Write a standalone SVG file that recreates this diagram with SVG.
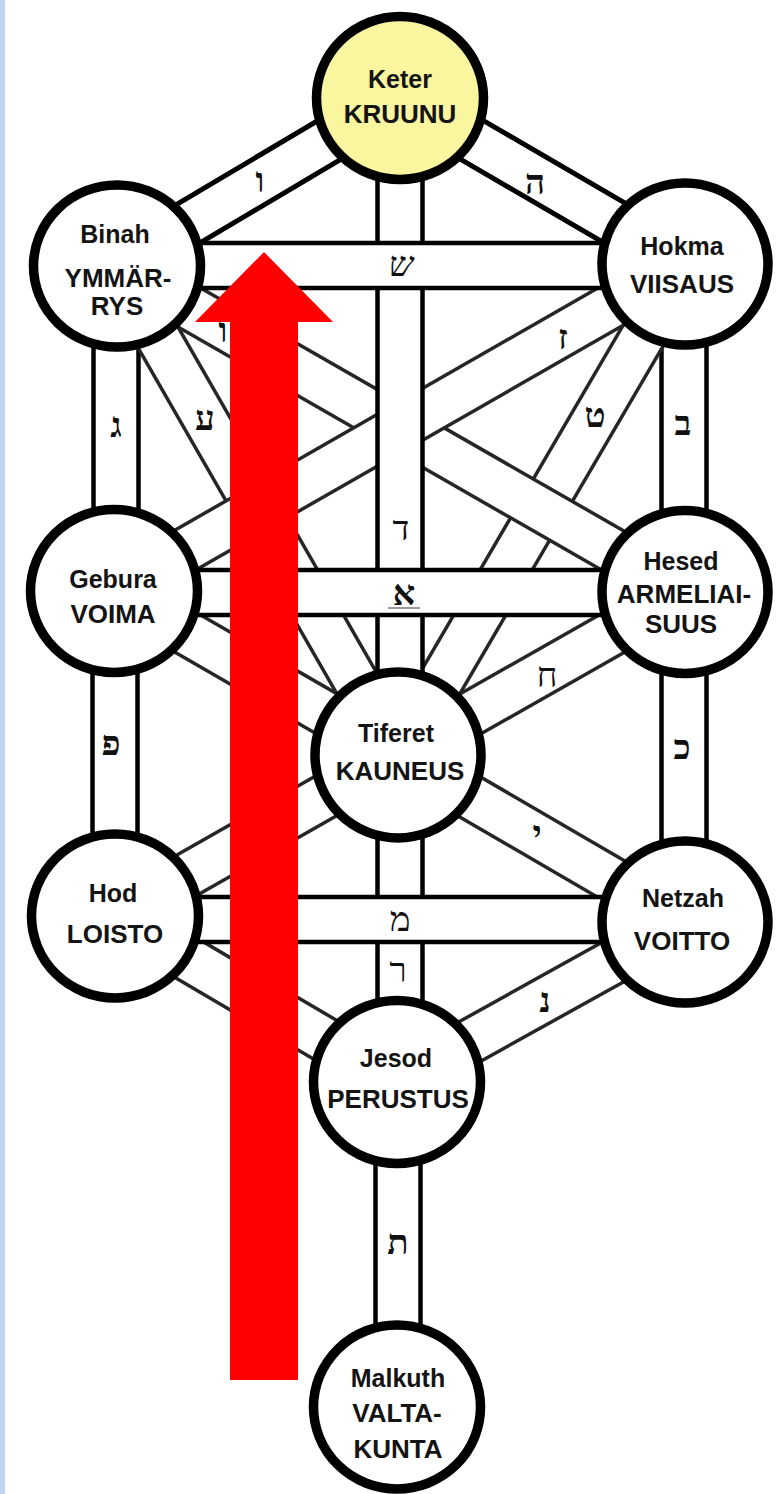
<svg xmlns="http://www.w3.org/2000/svg" width="776" height="1494" viewBox="0 0 776 1494">
<style>
.ok{stroke:#000;stroke-width:50}
.ik{stroke:#fff;stroke-width:40}
.om{stroke:#000;stroke-width:49.5}
.im{stroke:#fff;stroke-width:40.5}
.od{stroke:#262626;stroke-width:48.5}
.id{stroke:#fff;stroke-width:41.5}
.node{fill:#fff;stroke:#000;stroke-width:9.5}
.lab{font-family:"Liberation Sans",Arial,sans-serif;font-weight:bold;fill:#141414;text-anchor:middle}
.lc{font-size:25px}
.uc{font-size:26px}
.heb{font-family:"Liberation Serif","DejaVu Serif",serif;font-size:35px;fill:#111;text-anchor:middle}
.b{font-weight:bold}
</style>
<rect x="0" y="0" width="776" height="1494" fill="#fff"/>
<rect x="0" y="0" width="5" height="1494" fill="#BDD7EE"/>
<g id="connectors">
  <g id="p-keter-binah"><line class="ok" x1="400" y1="98" x2="117" y2="266"/><line class="ik" x1="400" y1="98" x2="117" y2="266"/></g>
  <g id="p-keter-hokma"><line class="ok" x1="400" y1="98" x2="685" y2="264"/><line class="ik" x1="400" y1="98" x2="685" y2="264"/></g>
  <g id="p-binah-gebura"><line class="om" x1="116" y1="266" x2="116" y2="591"/><line class="im" x1="116" y1="266" x2="116" y2="591"/></g>
  <g id="p-hokma-hesed"><line class="om" x1="684" y1="264" x2="684" y2="592"/><line class="im" x1="684" y1="264" x2="684" y2="592"/></g>
  <g id="p-gebura-hod"><line class="om" x1="115" y1="591" x2="115" y2="916"/><line class="im" x1="115" y1="591" x2="115" y2="916"/></g>
  <g id="p-hesed-netzah"><line class="om" x1="684" y1="592" x2="684" y2="922"/><line class="im" x1="684" y1="592" x2="684" y2="922"/></g>
  <g id="p-jesod-malkuth"><line class="om" x1="398" y1="1082" x2="398" y2="1407"/><line class="im" x1="398" y1="1082" x2="398" y2="1407"/></g>
  <g id="p-binah-tiferet"><line class="od" x1="117" y1="266" x2="398" y2="755"/><line class="id" x1="117" y1="266" x2="398" y2="755"/></g>
  <g id="p-hokma-tiferet"><line class="od" x1="685" y1="264" x2="398" y2="755"/><line class="id" x1="685" y1="264" x2="398" y2="755"/></g>
  <g id="p-binah-hesed"><line class="od" x1="117" y1="266" x2="685" y2="592"/><line class="id" x1="117" y1="266" x2="685" y2="592"/></g>
  <g id="p-hokma-gebura"><line class="od" x1="685" y1="264" x2="114" y2="591"/><line class="id" x1="685" y1="264" x2="114" y2="591"/></g>
  <g id="p-gebura-tiferet"><line class="od" x1="114" y1="591" x2="398" y2="755"/><line class="id" x1="114" y1="591" x2="398" y2="755"/></g>
  <g id="p-hesed-tiferet"><line class="od" x1="685" y1="592" x2="398" y2="755"/><line class="id" x1="685" y1="592" x2="398" y2="755"/></g>
  <g id="p-tiferet-hod"><line class="od" x1="398" y1="755" x2="115" y2="916"/><line class="id" x1="398" y1="755" x2="115" y2="916"/></g>
  <g id="p-tiferet-netzah"><line class="od" x1="398" y1="755" x2="685" y2="922"/><line class="id" x1="398" y1="755" x2="685" y2="922"/></g>
  <g id="p-hod-jesod"><line class="od" x1="115" y1="916" x2="397" y2="1082"/><line class="id" x1="115" y1="916" x2="397" y2="1082"/></g>
  <g id="p-netzah-jesod"><line class="od" x1="685" y1="922" x2="397" y2="1082"/><line class="id" x1="685" y1="922" x2="397" y2="1082"/></g>
  <g id="p-keter-tiferet"><line class="om" x1="400" y1="98" x2="400" y2="755"/><line class="im" x1="400" y1="98" x2="400" y2="755"/></g>
  <g id="p-tiferet-jesod"><line class="om" x1="400" y1="755" x2="400" y2="1082"/><line class="im" x1="400" y1="755" x2="400" y2="1082"/></g>
  <g id="p-binah-hokma"><line class="om" x1="117" y1="265.5" x2="685" y2="265.5"/><line class="im" x1="117" y1="265.5" x2="685" y2="265.5"/></g>
  <g id="p-gebura-hesed"><line class="om" x1="114" y1="592.5" x2="685" y2="592.5"/><line class="im" x1="114" y1="592.5" x2="685" y2="592.5"/></g>
  <g id="p-hod-netzah"><line class="om" x1="115" y1="919.5" x2="685" y2="919.5"/><line class="im" x1="115" y1="919.5" x2="685" y2="919.5"/></g>
</g>
<g id="letters">
  <text class="heb b" x="260" y="192">ו</text>
  <text class="heb b" x="535" y="194">ה</text>
  <text class="heb" x="401" y="276" font-style="italic">ש</text>
  <text class="heb b" x="116" y="437">ג</text>
  <text class="heb b" x="683" y="435">ב</text>
  <text class="heb b" x="205" y="430">ע</text>
  <text class="heb b" x="595" y="427">ט</text>
  <text class="heb b" x="563" y="349">ז</text>
  <text class="heb b" x="223" y="342">ו</text>
  <text class="heb" x="401" y="540">ד</text>
  <text class="heb b" x="404" y="605">א</text>
  <line x1="388" y1="608" x2="420" y2="608" stroke="#777" stroke-width="1.5"/>
  <text class="heb" x="547" y="687">ח</text>
  <text class="heb b" x="111" y="755">פ</text>
  <text class="heb b" x="682" y="759">כ</text>
  <text class="heb b" x="537" y="845">י</text>
  <text class="heb" x="400" y="931">מ</text>
  <text class="heb" x="398" y="982">ר</text>
  <text class="heb b" x="545" y="1012">נ</text>
  <text class="heb b" x="398" y="1254">ת</text>
</g>
<g id="keter"><ellipse class="node" cx="400" cy="98" rx="83.5" ry="81.5" style="fill:#FAF6A0"/><text class="lab lc" x="400" y="88">Keter</text><text class="lab uc" x="400" y="123">KRUUNU</text></g>
<g id="binah"><ellipse class="node" cx="117" cy="266" rx="83.5" ry="81"/><text class="lab lc" x="115" y="243">Binah</text><text class="lab uc" x="118" y="287">YMMÄR-</text><text class="lab uc" x="117" y="315">RYS</text></g>
<g id="hokma"><ellipse class="node" cx="685" cy="264" rx="83" ry="81"/><text class="lab lc" x="682" y="255">Hokma</text><text class="lab uc" x="682" y="293">VIISAUS</text></g>
<g id="gebura"><ellipse class="node" cx="114" cy="591" rx="83.5" ry="81.5"/><text class="lab lc" x="113" y="588">Gebura</text><text class="lab uc" x="113" y="623">VOIMA</text></g>
<g id="hesed"><ellipse class="node" cx="685" cy="592" rx="83" ry="81.5"/><text class="lab lc" x="681" y="570">Hesed</text><text class="lab uc" x="684" y="603">ARMELIAI-</text><text class="lab uc" x="681" y="633">SUUS</text></g>
<g id="tiferet"><ellipse class="node" cx="398" cy="755" rx="83" ry="83"/><text class="lab lc" x="396" y="742">Tiferet</text><text class="lab uc" x="400" y="780">KAUNEUS</text></g>
<g id="hod"><ellipse class="node" cx="115" cy="916" rx="83.5" ry="82"/><text class="lab lc" x="113" y="902">Hod</text><text class="lab uc" x="115" y="943">LOISTO</text></g>
<g id="netzah"><ellipse class="node" cx="685" cy="922" rx="83" ry="81"/><text class="lab lc" x="683" y="907">Netzah</text><text class="lab uc" x="682" y="950">VOITTO</text></g>
<g id="jesod"><ellipse class="node" cx="397" cy="1082" rx="83.5" ry="81.5"/><text class="lab lc" x="396" y="1067">Jesod</text><text class="lab uc" x="398" y="1108">PERUSTUS</text></g>
<g id="malkuth"><ellipse class="node" cx="397" cy="1407" rx="83.5" ry="82"/><text class="lab lc" x="398" y="1387">Malkuth</text><text class="lab uc" x="397" y="1422">VALTA-</text><text class="lab uc" x="398" y="1458">KUNTA</text></g>
<g id="arrow"><polygon points="264,252 333,322 298,322 298,1380 230,1380 230,322 195,322" fill="#FF0000"/></g>
</svg>
